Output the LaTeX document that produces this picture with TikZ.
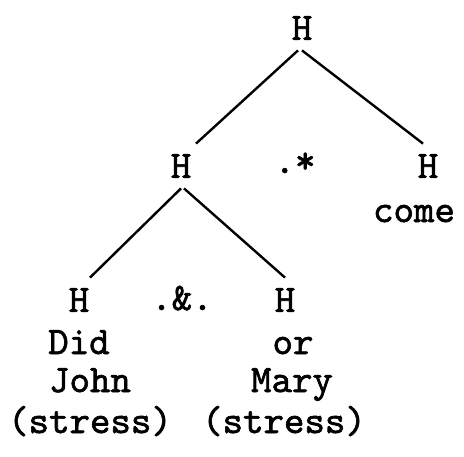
\documentclass[tikz,border=0pt]{standalone}
\usepackage{fontspec}
\newfontfamily\typer{lmmono10-regular}[Extension=.otf,FakeBold=1.6]
\begin{document}
\begin{tikzpicture}[x=0.5pt,y=-0.5pt,
  every node/.style={font=\fontsize{19.5}{23}\selectfont\typer},
  hnode/.style={inner sep=0pt,minimum height=22pt},
  word/.style={inner sep=0pt,anchor=base},
  branch/.style={line width=1.2pt}]
\useasboundingbox (0,0) rectangle (464,456);

\node[hnode] (root) at (302,28) {H};
\node[hnode] (hl) at (181,166) {H};
\node[hnode] (hr) at (428,166) {H};
\node[word] (star) at (295,173) {.*};
\node[word] (come) at (414,222) {come};

\node[hnode] (hll) at (79,300) {H};
\node[hnode] (hlr) at (285,300) {H};
\node[word] (amp) at (182,310) {.\&.};

\node[word] (did) at (79,354) {Did};
\node[word] (john) at (90,392) {John};
\node[word] (stressl) at (90,433) {(stress)};
\node[word] (or) at (293,354) {or};
\node[word] (mary) at (292,392) {Mary};
\node[word] (stressr) at (284,433) {(stress)};

\draw[branch] ([xshift=-2pt]root.south) -- ([xshift=7.5pt]hl.north);
\draw[branch] (root.south) -- ([xshift=-2.5pt]hr.north);
\draw[branch] (hl.south) -- ([xshift=5.5pt]hll.north);
\draw[branch] ([xshift=1.5pt]hl.south) -- (hlr.north);
\end{tikzpicture}
\end{document}
